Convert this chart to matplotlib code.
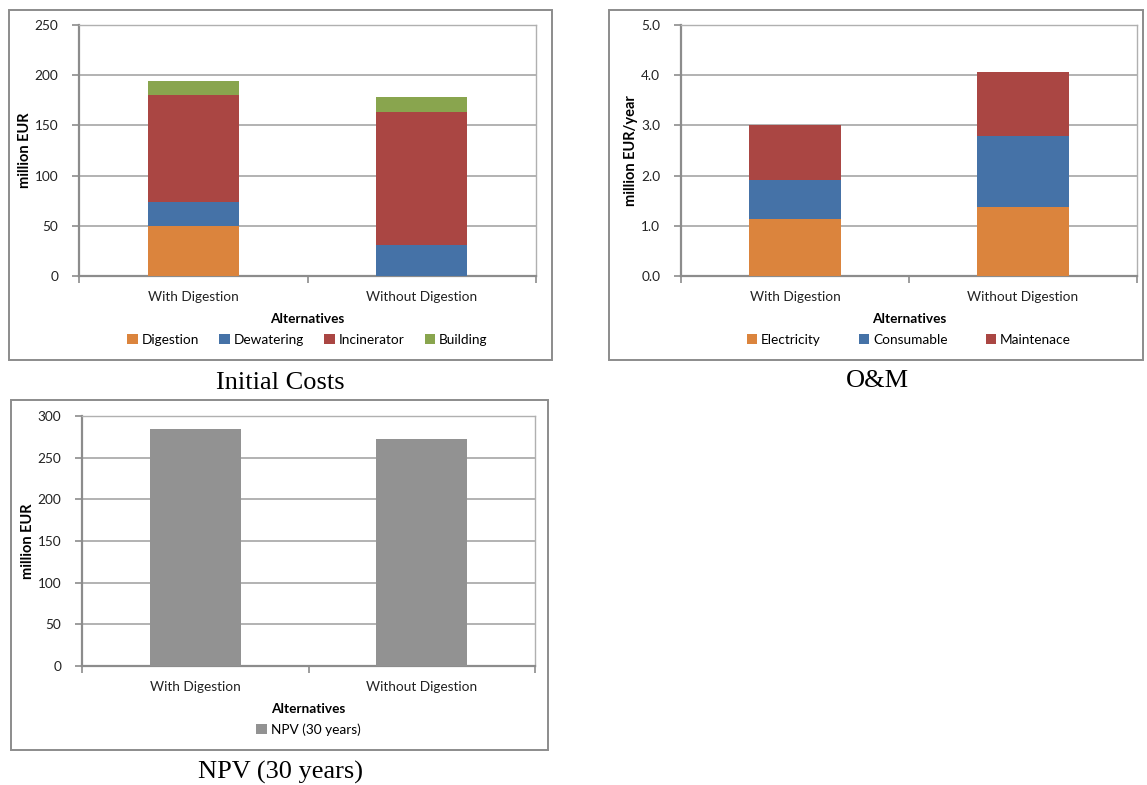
import matplotlib
matplotlib.use("Agg")
import matplotlib.pyplot as plt
from matplotlib.patches import Rectangle
from matplotlib.ticker import FixedLocator, FormatStrFormatter

plt.rcParams['font.family'] = ['Lato', 'DejaVu Sans']

alternatives = ['With Digestion', 'Without Digestion']

# initial costs, million EUR
digestion = [50, 0]
dewatering = [24, 31]
incinerator = [106, 132]
building = [14, 15]

# O&M, million EUR/year
electricity = [1.13, 1.37]
consumable = [0.78, 1.41]
maintenance = [1.09, 1.28]

# net present value over 30 years, million EUR
npv = [284, 273]

ORANGE = '#DB843D'
BLUE = '#4572A7'
RED = '#AA4643'
GREEN = '#89A54E'
GREY = '#929292'

W, H = 1147, 785
fig = plt.figure(figsize=(W / 100, H / 100), dpi=100)


def box(x0, y0, x1, y1):
    # pixel box (top-left origin) -> figure fraction rect
    return [x0 / W, 1 - y1 / H, (x1 - x0) / W, (y1 - y0) / H]


def frame(x0, y0, x1, y1):
    l, b, w, h = box(x0, y0, x1, y1)
    fig.patches.append(Rectangle((l, b), w, h, transform=fig.transFigure,
                                 fill=False, edgecolor='#8c8c8c', lw=1.4))


def setup(ax, ymax, step, ylabel, fmt):
    ax.set_xlim(-0.5, 1.5)
    ax.set_ylim(0, ymax)
    ax.yaxis.set_major_locator(FixedLocator([i * step for i in range(int(round(ymax / step)) + 1)]))
    ax.yaxis.set_major_formatter(FormatStrFormatter(fmt))
    ax.set_xticks([0, 1])
    ax.set_xticklabels(alternatives, fontsize=9.8, color='#222222')
    ax.set_xticks([-0.5, 0.5, 1.5], minor=True)
    ax.tick_params(axis='x', which='major', length=0, pad=10.5)
    ax.tick_params(axis='x', which='minor', length=5, color='#8c8c8c', width=1.2, direction='out')
    ax.tick_params(axis='y', length=5, color='#8c8c8c', width=1.2, labelsize=9.8,
                   labelcolor='#222222', pad=10)
    ax.grid(axis='y', color='#a6a6a6', lw=1.2)
    ax.set_axisbelow(True)
    for side in ['top', 'right']:
        ax.spines[side].set_color('#b0b0b0')
        ax.spines[side].set_linewidth(1.0)
    for side in ['left', 'bottom']:
        ax.spines[side].set_color('#8c8c8c')
        ax.spines[side].set_linewidth(1.6)
    ax.set_ylabel(ylabel, fontsize=10.5, fontweight='bold', labelpad=2)
    ax.set_xlabel('Alternatives', fontsize=9.8, fontweight='bold', labelpad=7.5)


x = [0, 1]
bw = 0.4

# Initial costs
frame(9, 10, 552, 360)
ax1 = fig.add_axes(box(79, 25, 536, 276))
b1 = [0, 0]
for vals, col, name in [(digestion, ORANGE, 'Digestion'), (dewatering, BLUE, 'Dewatering'),
                        (incinerator, RED, 'Incinerator'), (building, GREEN, 'Building')]:
    ax1.bar(x, vals, bw, bottom=b1, color=col, label=name, zorder=3)
    b1 = [p + q for p, q in zip(b1, vals)]
setup(ax1, 250, 50, 'million EUR', '%d')
ax1.legend(loc='center', bbox_to_anchor=(0.5, -0.255), ncol=4, frameon=False, fontsize=9.8,
           handlelength=0.75, handleheight=0.75, handletextpad=0.3, columnspacing=1.5)
fig.text(280 / W, 1 - 383 / H, 'Initial Costs', ha='center', va='center',
         family='Liberation Serif', fontsize=19)

# O&M
frame(609, 10, 1143, 360)
ax2 = fig.add_axes(box(681, 25, 1137, 276))
b2 = [0, 0]
for vals, col, name in [(electricity, ORANGE, 'Electricity'), (consumable, BLUE, 'Consumable'),
                        (maintenance, RED, 'Maintenace')]:
    ax2.bar(x, vals, bw, bottom=b2, color=col, label=name, zorder=3)
    b2 = [p + q for p, q in zip(b2, vals)]
setup(ax2, 5.0, 1.0, 'million EUR/year', '%.1f')
ax2.legend(loc='center', bbox_to_anchor=(0.5, -0.255), ncol=3, frameon=False, fontsize=9.8,
           handlelength=0.75, handleheight=0.75, handletextpad=0.3, columnspacing=2.8)
fig.text(877 / W, 1 - 381 / H, 'O&M', ha='center', va='center',
         family='Liberation Serif', fontsize=19)

# NPV
frame(11, 400, 548, 750)
ax3 = fig.add_axes(box(82, 416, 535, 666))
ax3.bar(x, npv, bw, color=GREY, label='NPV (30 years)', zorder=3)
setup(ax3, 300, 50, 'million EUR', '%d')
ax3.legend(loc='center', bbox_to_anchor=(0.5, -0.255), ncol=1, frameon=False, fontsize=9.8,
           handlelength=0.75, handleheight=0.75, handletextpad=0.3)
fig.text(280 / W, 1 - 772 / H, 'NPV (30 years)', ha='center', va='center',
         family='Liberation Serif', fontsize=19)

fig.savefig('out.png', dpi=100)
